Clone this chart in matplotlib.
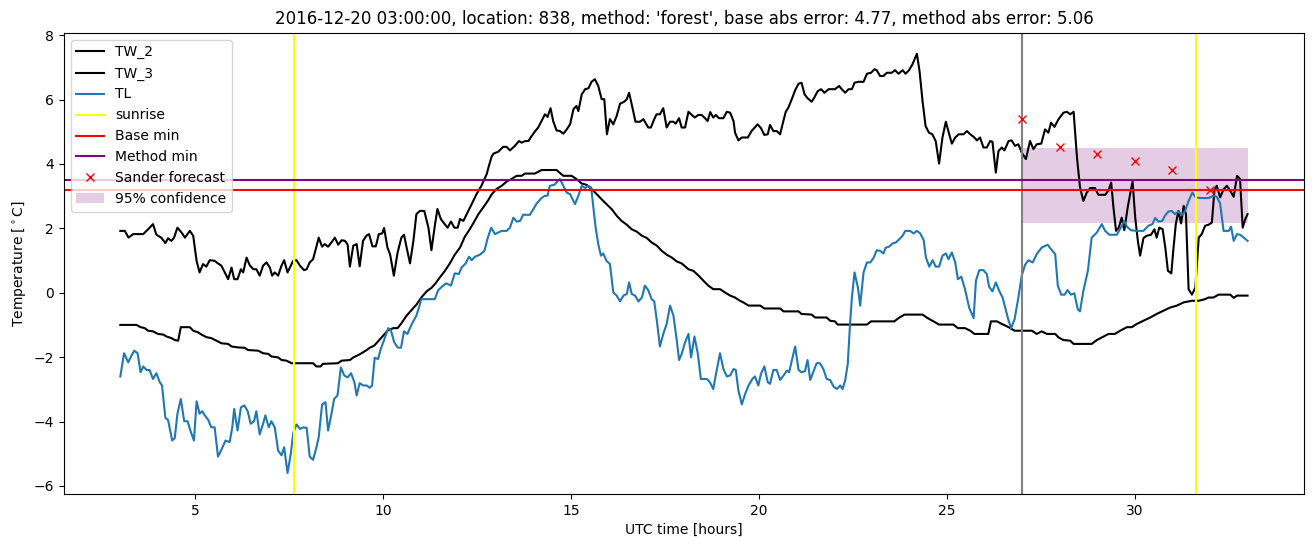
import matplotlib
matplotlib.use("Agg")
import matplotlib.pyplot as plt

# ---------------- data (hours since 2016-12-20 00:00 UTC) ---------------- #
tw2_hours = [3.00, 3.12, 3.22, 3.34, 3.61, 3.74, 3.87, 3.96, 4.09, 4.20, 4.27, 4.36, 4.43, 4.52, 4.63,
             4.72, 4.85, 4.94, 5.03, 5.11, 5.20, 5.29, 5.38, 5.51, 5.60, 5.69, 5.78, 5.87, 5.96, 6.03,
             6.12, 6.21, 6.27, 6.36, 6.45, 6.54, 6.62, 6.71, 6.80, 6.89, 6.98, 7.04, 7.11, 7.20, 7.29,
             7.36, 7.45, 7.60, 7.69, 7.78, 7.89, 7.96, 8.04, 8.13, 8.19, 8.28, 8.37, 8.44, 8.53, 8.62,
             8.71, 8.80, 8.89, 8.98, 9.05, 9.11, 9.20, 9.29, 9.37, 9.46, 9.55, 9.62, 9.71, 9.80, 9.88,
             9.97, 10.02, 10.11, 10.18, 10.28, 10.38, 10.48, 10.55, 10.62, 10.71, 10.80, 10.88, 10.97,
             11.09, 11.20, 11.28, 11.37, 11.44, 11.53, 11.62, 11.71, 11.80, 11.89, 11.98, 12.04, 12.13,
             12.22, 12.35, 12.48, 12.61, 12.75, 12.81, 12.88, 12.93, 13.06, 13.19, 13.28, 13.37, 13.50,
             13.61, 13.68, 13.77, 13.86, 13.95, 14.03, 14.12, 14.21, 14.30, 14.37, 14.45, 14.52, 14.61,
             14.70, 14.79, 14.88, 14.97, 15.06, 15.14, 15.19, 15.28, 15.37, 15.46, 15.54, 15.63, 15.72,
             15.81, 15.88, 15.95, 16.03, 16.12, 16.21, 16.30, 16.41, 16.48, 16.54, 16.61, 16.71, 16.83,
             16.92, 17.05, 17.12, 17.21, 17.27, 17.36, 17.45, 17.54, 17.63, 17.72, 17.78, 17.87, 17.94,
             18.03, 18.12, 18.21, 18.29, 18.38, 18.47, 18.56, 18.63, 18.70, 18.78, 18.85, 18.93, 19.05,
             19.14, 19.23, 19.32, 19.36, 19.45, 19.54, 19.70, 19.80, 19.96, 20.05, 20.14, 20.23, 20.29,
             20.38, 20.47, 20.56, 20.65, 20.71, 20.78, 20.87, 20.96, 21.05, 21.13, 21.21, 21.29, 21.40,
             21.47, 21.56, 21.65, 21.74, 21.85, 22.02, 22.13, 22.20, 22.29, 22.38, 22.47, 22.54, 22.64,
             22.78, 22.87, 22.98, 23.07, 23.13, 23.22, 23.31, 23.40, 23.53, 23.62, 23.71, 23.82, 23.90,
             23.99, 24.08, 24.20, 24.27, 24.35, 24.43, 24.52, 24.61, 24.70, 24.79, 24.88, 24.97, 25.06,
             25.13, 25.22, 25.31, 25.44, 25.53, 25.62, 25.71, 25.80, 25.88, 25.97, 26.06, 26.15, 26.21,
             26.30, 26.37, 26.46, 26.53, 26.64, 26.72, 26.81, 26.90, 26.99, 27.10, 27.21, 27.30, 27.39,
             27.51, 27.61, 27.70, 27.77, 27.86, 27.97, 28.10, 28.19, 28.28, 28.37, 28.46, 28.54, 28.63,
             28.72, 28.81, 28.94, 29.03, 29.21, 29.30, 29.37, 29.43, 29.50, 29.57, 29.65, 29.72, 29.81,
             29.89, 29.94, 30.01, 30.08, 30.14, 30.23, 30.32, 30.43, 30.52, 30.58, 30.65, 30.74, 30.81,
             30.88, 30.97, 31.03, 31.09, 31.16, 31.23, 31.30, 31.36, 31.43, 31.52, 31.61, 31.70, 31.78,
             31.87, 31.96, 32.05, 32.12, 32.18, 32.27, 32.36, 32.45, 32.54, 32.63, 32.72, 32.80, 32.87,
             32.94, 33.00]
tw2_temp = [1.92, 1.92, 1.71, 1.82, 1.82, 1.97, 2.13, 1.80, 1.71, 1.54, 1.69, 1.61, 1.71, 2.02, 1.87,
            1.71, 1.92, 1.77, 0.99, 0.63, 0.89, 0.81, 1.01, 0.99, 0.91, 0.84, 0.63, 0.42, 0.78, 0.42,
            0.42, 0.73, 0.63, 1.09, 0.84, 0.73, 0.73, 0.53, 0.84, 0.94, 0.78, 0.53, 0.63, 0.53, 0.84,
            1.01, 0.63, 0.99, 1.01, 0.84, 0.70, 0.73, 0.94, 1.04, 1.30, 1.71, 1.43, 1.51, 1.43, 1.56,
            1.71, 1.49, 1.63, 1.61, 1.49, 0.81, 1.46, 1.51, 0.82, 1.61, 1.77, 1.82, 1.44, 1.44, 1.82,
            1.84, 2.01, 1.40, 1.19, 0.53, 1.25, 1.71, 1.80, 1.40, 0.91, 1.61, 2.44, 2.54,
            2.54, 2.02, 1.32, 2.08, 2.60, 2.29, 2.15, 2.02, 2.21, 2.02, 2.02, 2.29, 2.23,
            2.44, 2.75, 3.06, 3.32, 3.68, 3.94, 4.22, 4.32, 4.38, 4.53, 4.53, 4.42, 4.56,
            4.71, 4.66, 4.71, 4.71, 4.87, 5.00, 5.13, 5.33, 5.54, 5.46, 5.73, 5.33, 5.04,
            5.02, 4.94, 5.07, 5.23, 5.70, 5.80, 5.64, 6.16, 6.32, 6.35, 6.55, 6.63, 6.42,
            6.01, 6.01, 4.92, 5.39, 5.23, 5.49, 5.87, 5.93, 6.01, 6.21, 5.85, 5.31, 5.31,
            5.39, 5.13, 5.13, 5.39, 5.54, 5.54, 5.73, 5.13, 5.31, 5.31, 5.25, 5.42, 5.13,
            5.13, 5.62, 5.52, 5.44, 5.52, 5.52, 5.42, 5.33, 5.61, 5.44, 5.52, 5.42, 5.42,
            5.62, 5.59, 5.33, 4.97, 4.73, 4.82, 4.82, 5.02, 5.23, 5.11, 4.90, 4.92, 5.21,
            5.02, 5.02, 4.92, 5.35, 5.62, 5.75, 6.01, 6.29, 6.49, 6.52, 6.16, 6.04, 5.93,
            6.06, 6.26, 6.32, 6.21, 6.32, 6.32, 6.42, 6.32, 6.21, 6.32, 6.32, 6.52, 6.55,
            6.55, 6.80, 6.83, 6.94, 6.91, 6.73, 6.73, 6.83, 6.83, 6.91, 6.80, 6.91, 6.80,
            6.91, 7.09, 7.42, 6.88, 5.95, 5.18, 4.97, 4.92, 4.71, 4.01, 4.82, 5.31, 4.92,
            4.63, 4.82, 4.92, 4.92, 5.02, 4.92, 4.84, 4.73, 4.82, 4.51, 4.51, 4.71, 4.69,
            3.73, 4.40, 4.51, 4.42, 4.71, 4.73, 4.56, 4.61, 4.35, 4.15, 4.71, 4.46, 4.61,
            4.63, 5.07, 4.97, 5.28, 5.15, 5.39, 5.59, 5.62, 5.54, 5.62, 4.20, 3.27, 2.85,
            3.11, 3.25, 3.25, 3.04, 3.04, 3.18, 3.42, 2.65, 1.92, 2.02, 2.33, 1.94, 2.65,
            3.16, 3.45, 2.33, 1.61, 1.15, 1.70, 1.77, 1.80, 1.97, 1.71, 2.02, 1.97, 1.40,
            0.68, 0.60, 1.40, 2.13, 2.54, 2.15, 2.70, 2.44, 0.11, -0.06, 0.16, 1.71, 1.82,
            2.08, 2.11, 2.18, 3.21, 3.32, 2.96, 3.21, 3.32, 3.16, 2.98, 3.63, 3.53, 2.02,
            2.29, 2.44]

tw3_hours = [3.00, 3.43, 3.54, 3.65, 3.74, 3.87, 4.00, 4.14, 4.23, 4.36, 4.45, 4.54, 4.61, 4.85, 4.94,
             5.07, 5.16, 5.29, 5.42, 5.56, 5.69, 5.87, 5.96, 6.14, 6.31, 6.40, 6.67, 6.80, 6.94, 7.02,
             7.20, 7.29, 7.42, 7.56, 8.13, 8.22, 8.33, 8.39, 8.79, 8.89, 9.11, 9.20, 9.31, 9.42, 9.53,
             9.64, 9.76, 9.86, 10.00, 10.13, 10.27, 10.38, 10.48, 10.62, 10.75, 10.88, 11.01, 11.15,
             11.28, 11.39, 11.50, 11.64, 11.77, 11.90, 12.04, 12.17, 12.30, 12.42, 12.53, 12.66, 12.79,
             12.88, 13.01, 13.15, 13.28, 13.41, 13.55, 13.68, 13.77, 14.03, 14.21, 14.61, 14.79, 15.01,
             15.14, 15.28, 15.41, 15.54, 15.68, 15.81, 15.94, 16.08, 16.21, 16.34, 16.48, 16.61, 16.74,
             16.88, 17.01, 17.14, 17.28, 17.41, 17.54, 17.68, 17.81, 17.94, 18.12, 18.25, 18.39, 18.52,
             18.65, 18.78, 18.96, 19.09, 19.23, 19.36, 19.49, 19.58, 19.72, 20.03, 20.14, 20.56, 20.65,
             21.05, 21.13, 21.40, 21.49, 21.80, 21.89, 22.02, 22.09, 22.87, 22.98, 23.60, 23.71, 23.87,
             24.35, 24.46, 24.61, 24.79, 25.17, 25.29, 25.48, 25.62, 25.73, 26.10, 26.17, 26.33, 26.46,
             26.64, 26.80, 27.26, 27.39, 27.52, 27.66, 27.88, 27.97, 28.10, 28.28, 28.37, 28.85, 28.99,
             29.12, 29.30, 29.47, 29.61, 29.79, 29.92, 30.05, 30.23, 30.41, 30.58, 30.76, 30.94, 31.12,
             31.30, 31.52, 31.70, 31.87, 31.96, 32.09, 32.23, 32.54, 32.63, 32.72, 33.00]
tw3_temp = [-1.0, -1.0, -1.07, -1.1, -1.18, -1.2, -1.28, -1.3, -1.36, -1.41, -1.47, -1.49, -1.07, -1.07, -1.18,
            -1.23, -1.3, -1.38, -1.41, -1.49, -1.57, -1.59, -1.67, -1.7, -1.71, -1.78, -1.8, -1.88, -1.9, -1.98,
            -2.01, -2.09, -2.11, -2.19, -2.19, -2.29, -2.29, -2.21, -2.19, -2.11, -2.09, -2.01, -1.95, -1.88, -1.8,
            -1.71, -1.64, -1.51, -1.33, -1.16, -1.1, -1.1, -0.95, -0.71, -0.54, -0.37, -0.15, 0.04,
            0.15, 0.29, 0.47, 0.68, 0.91, 1.18, 1.4, 1.74, 1.97, 2.21, 2.44, 2.65, 2.87,
            3.05, 3.22, 3.32, 3.45, 3.53, 3.63, 3.63, 3.7, 3.7, 3.81, 3.81, 3.63, 3.63,
            3.53, 3.39, 3.35, 3.22, 3.06, 2.9, 2.75, 2.59, 2.39, 2.23, 2.11, 1.97, 1.9,
            1.77, 1.7, 1.56, 1.46, 1.3, 1.18, 1.09, 0.97, 0.91, 0.73, 0.68, 0.53, 0.37,
            0.22, 0.11, 0.11, 0.01, -0.09, -0.15, -0.25, -0.3, -0.4, -0.4, -0.49, -0.49, -0.58,
            -0.58, -0.66, -0.68, -0.77, -0.77, -0.87, -0.89, -0.99, -0.99, -0.89, -0.89, -0.79, -0.68,
            -0.68, -0.77, -0.87, -0.99, -0.99, -1.1, -1.1, -1.18, -1.28, -1.28, -0.89, -0.89, -0.97,
            -1.07, -1.18, -1.18, -1.28, -1.2, -1.28, -1.28, -1.39, -1.47, -1.49, -1.59, -1.59, -1.47,
            -1.39, -1.28, -1.28, -1.18, -1.07, -1.07, -0.97, -0.87, -0.77, -0.66, -0.56, -0.46, -0.4,
            -0.3, -0.25, -0.25, -0.2, -0.15, -0.15, -0.06, -0.06, -0.16, -0.09, -0.09]

tl_hours = [3.00, 3.10, 3.21, 3.30, 3.37, 3.46, 3.54, 3.61, 3.70, 3.78, 3.87, 3.96, 4.05, 4.11, 4.20,
            4.27, 4.38, 4.45, 4.52, 4.61, 4.70, 4.79, 4.87, 4.96, 5.03, 5.11, 5.18, 5.25, 5.34, 5.42,
            5.51, 5.60, 5.69, 5.80, 5.91, 5.98, 6.03, 6.12, 6.21, 6.30, 6.39, 6.47, 6.56, 6.62, 6.71,
            6.80, 6.86, 6.95, 7.02, 7.11, 7.20, 7.29, 7.36, 7.45, 7.54, 7.60, 7.69, 7.78, 7.87, 7.96,
            8.04, 8.13, 8.22, 8.28, 8.37, 8.46, 8.53, 8.62, 8.69, 8.78, 8.87, 8.96, 9.05, 9.14, 9.23,
            9.29, 9.37, 9.46, 9.55, 9.64, 9.70, 9.77, 9.86, 9.93, 10.02, 10.13, 10.20, 10.29, 10.38,
            10.47, 10.55, 10.64, 10.75, 10.88, 10.97, 11.01, 11.37, 11.46, 11.59, 11.68, 11.80, 11.90,
            12.01, 12.08, 12.19, 12.28, 12.35, 12.44, 12.57, 12.69, 12.78, 12.87, 12.97, 13.06, 13.15,
            13.28, 13.37, 13.46, 13.55, 13.64, 13.72, 13.90, 13.99, 14.08, 14.21, 14.30, 14.37, 14.43,
            14.55, 14.70, 14.79, 14.88, 14.97, 15.10, 15.19, 15.28, 15.37, 15.44, 15.53, 15.59, 15.65,
            15.72, 15.79, 15.85, 15.94, 16.03, 16.12, 16.21, 16.30, 16.39, 16.48, 16.54, 16.61, 16.70,
            16.79, 16.88, 16.96, 17.05, 17.14, 17.21, 17.29, 17.36, 17.45, 17.54, 17.63, 17.72, 17.81,
            17.87, 17.94, 18.03, 18.12, 18.19, 18.28, 18.37, 18.45, 18.61, 18.69, 18.78, 18.87, 18.96,
            19.05, 19.14, 19.23, 19.32, 19.38, 19.45, 19.54, 19.63, 19.72, 19.82, 19.89, 19.98, 20.05,
            20.14, 20.23, 20.29, 20.38, 20.47, 20.56, 20.65, 20.74, 20.80, 20.87, 20.96, 21.05, 21.13,
            21.22, 21.29, 21.36, 21.44, 21.53, 21.62, 21.71, 21.80, 21.89, 21.98, 22.07, 22.16, 22.22,
            22.29, 22.36, 22.42, 22.47, 22.54, 22.63, 22.69, 22.78, 22.87, 22.96, 23.05, 23.13, 23.22,
            23.31, 23.37, 23.46, 23.55, 23.64, 23.73, 23.82, 23.89, 24.02, 24.11, 24.20, 24.29, 24.38,
            24.44, 24.53, 24.62, 24.70, 24.79, 24.88, 24.97, 25.04, 25.13, 25.22, 25.29, 25.38, 25.48,
            25.59, 25.71, 25.77, 25.86, 25.97, 26.06, 26.12, 26.21, 26.30, 26.39, 26.48, 26.57, 26.64,
            26.71, 26.80, 26.90, 26.99, 27.08, 27.17, 27.28, 27.39, 27.52, 27.57, 27.68, 27.77, 27.88,
            27.95, 28.04, 28.13, 28.21, 28.30, 28.39, 28.48, 28.54, 28.63, 28.75, 28.85, 28.99, 29.12,
            29.21, 29.32, 29.52, 29.64, 29.72, 29.79, 29.90, 30.05, 30.23, 30.36, 30.47, 30.54, 30.63,
            30.73, 30.80, 30.89, 30.98, 31.07, 31.16, 31.26, 31.33, 31.43, 31.53, 31.62, 31.74, 31.96,
            32.09, 32.18, 32.27, 32.36, 32.50, 32.56, 32.63, 32.72, 32.80, 32.90, 33.00]
tl_temp = [-2.60, -1.88, -2.16, -1.95, -1.80, -1.88, -2.47, -2.29, -2.40, -2.40, -2.68, -2.50, -2.78, -2.88, -3.89,
           -3.95, -4.59, -4.51, -3.76, -3.30, -3.99, -3.99, -4.30, -4.59, -3.37, -3.76, -3.68, -3.81, -3.95, -4.18,
           -4.18, -5.09, -4.88, -4.59, -4.64, -4.18, -3.61, -4.28, -3.56, -3.50, -3.68, -4.07, -3.99, -3.68, -4.40,
           -4.07, -3.81, -4.18, -3.99, -4.18, -4.90, -5.05, -4.80, -5.60, -4.98, -4.36, -4.09, -4.23, -4.18, -4.20,
           -5.09, -5.19, -4.80, -4.49, -3.47, -3.40, -4.28, -3.76, -3.30, -3.19, -2.32, -2.57, -2.63, -2.50, -2.78,
           -3.19, -2.81, -2.88, -2.88, -2.95, -2.88, -2.02, -2.06, -1.75, -1.47, -1.10, -1.16, -1.54, -1.70,
           -1.71, -1.20, -1.28, -0.99, -0.71, -0.37, -0.20, -0.20, 0.08, 0.22, 0.29, 0.22, 0.60,
           0.58, 0.78, 0.91, 1.12, 1.01, 1.12, 1.18, 1.30, 1.71, 2.02, 1.82, 1.87, 1.92,
           1.92, 2.02, 2.33, 2.21, 2.23, 2.42, 2.42, 2.59, 2.77, 2.94, 3.01, 3.01, 3.32,
           3.35, 3.53, 3.32, 3.11, 3.06, 2.75, 3.01, 3.32, 3.25, 3.32, 3.27, 2.65, 2.02,
           1.51, 1.15, 1.22, 0.99, 0.89, 0.01, -0.09, -0.27, -0.09, -0.04, 0.32, -0.04, -0.09,
           -0.27, -0.15, 0.22, 0.08, -0.20, -0.27, -0.97, -1.67, -1.28, -0.97, -0.40, -0.71, -1.49,
           -2.09, -1.90, -1.54, -1.28, -2.01, -1.36, -1.90, -2.68, -2.68, -2.78, -2.99, -2.42, -1.88,
           -2.37, -2.60, -2.57, -2.37, -2.40, -3.04, -3.47, -3.14, -2.88, -2.68, -2.60, -2.88, -2.52,
           -2.29, -2.78, -2.83, -2.40, -2.40, -2.71, -2.57, -2.42, -2.47, -2.11, -1.67, -2.40, -2.47,
           -2.44, -2.09, -2.71, -2.47, -2.19, -2.19, -2.37, -2.68, -2.71, -2.91, -2.99, -2.88, -2.99,
           -2.73, -2.21, -0.97, -0.15, 0.63, 0.16, -0.40, 0.63, 0.94, 0.94, 1.09, 1.32, 1.30,
           1.22, 1.40, 1.43, 1.53, 1.56, 1.66, 1.77, 1.92, 1.92, 1.84, 1.92, 1.84, 1.63,
           1.09, 0.81, 1.01, 0.81, 0.81, 1.15, 1.22, 1.04, 1.25, 0.94, 0.42, 0.50, 0.11,
           -0.46, -0.79, 0.37, 0.70, 0.70, 0.58, 0.19, 0.04, 0.32, 0.06, -0.15, -0.56, -0.87,
           -1.10, -0.82, -0.15, 0.53, 0.87, 1.01, 0.94, 1.20, 1.40, 1.43, 1.49, 1.35, 1.20,
           0.22, -0.06, -0.06, 0.08, -0.06, -0.02, -0.51, -0.58, 0.06, 0.68, 1.71, 1.87, 2.13,
           1.92, 1.80, 1.80, 2.05, 2.23, 2.05, 1.94, 1.92, 1.92, 2.08, 2.13, 2.32, 2.21,
           2.23, 2.39, 2.52, 2.54, 2.44, 2.52, 2.42, 2.52, 2.85, 3.11, 2.96, 2.94, 2.94,
           3.01, 2.98, 2.77, 1.92, 1.92, 2.05, 1.61, 1.82, 1.80, 1.71, 1.61]

sunrise_hours = [7.63, 31.63]
forecast_start = 27.0
base_min = 3.20
method_min = 3.49
sander_hours = [27, 28, 29, 30, 31, 32]
sander_temp = [5.41, 4.51, 4.32, 4.09, 3.81, 3.19]
conf_hours = [27.0, 33.0]
conf_low = [2.18, 2.18]
conf_high = [4.49, 4.49]

title = ("2016-12-20 03:00:00, location: 838, method: 'forest', "
         "base abs error: 4.77, method abs error: 5.06")

# ---------------- plot ---------------- #
fig = plt.figure(figsize=(13.13, 5.47), dpi=100)
ax = fig.add_axes([0.0487, 0.0969, 0.9444, 0.8431])

ax.plot(tw2_hours, tw2_temp, color="black", label="TW_2")
ax.plot(tw3_hours, tw3_temp, color="black", label="TW_3")
ax.plot(tl_hours, tl_temp, color="tab:blue", label="TL")

for i, h in enumerate(sunrise_hours):
    ax.axvline(h, color="yellow", label="sunrise" if i == 0 else None)
ax.axvline(forecast_start, color="gray")

ax.axhline(base_min, color="red", label="Base min")
ax.axhline(method_min, color="purple", label="Method min")

ax.plot(sander_hours, sander_temp, linestyle="none", marker="x", color="red",
        label="Sander forecast")
ax.fill_between(conf_hours, conf_low, conf_high, color="purple", alpha=0.2,
                linewidth=0, label="95% confidence")

ax.set_title(title)
ax.set_xlabel("UTC time [hours]")
ax.set_ylabel(r"Temperature [$^\circ$C]")
ax.legend(loc="upper left")

fig.savefig("out.png", dpi=100)
